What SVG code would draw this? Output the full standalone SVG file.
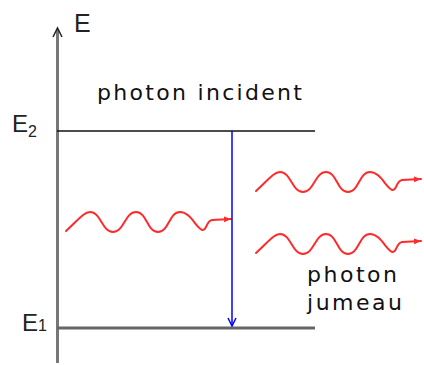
<svg xmlns="http://www.w3.org/2000/svg" xmlns:xlink="http://www.w3.org/1999/xlink" width="424" height="365" viewBox="0 0 424 365">
<style>
.lbl{font-family:"DejaVu Sans","Liberation Sans",sans-serif;font-size:22px;fill:#111}
.e{font-family:"Liberation Sans","DejaVu Sans",sans-serif;fill:#222}
.wave{fill:none;stroke:#ff2a2a;stroke-width:2;stroke-linecap:round;stroke-linejoin:round}
</style>
<defs>
<marker id="ra" markerWidth="8" markerHeight="8" refX="7" refY="4" orient="auto" markerUnits="userSpaceOnUse">
<path d="M0,1 L7,4 L0,7 Z" fill="#ff2a2a"/>
</marker>
<marker id="ba" markerWidth="10" markerHeight="10" refX="5" refY="9" orient="0" markerUnits="userSpaceOnUse">
<path d="M1,1 L5,9 L9,1" fill="none" stroke="#0000ff" stroke-width="1.5"/>
</marker>
<path id="w" d="M66,231 C78,220 84,212 90,212 C101,212 102,232 113,232 C124,232 125,212 136,212 C147,212 147,232 158,232 C169,232 169,212 180,212 C191,212 197,230 203,230 C207,230 206,221 212,220 L231,219" class="wave" marker-end="url(#ra)"/>
</defs>
<rect width="424" height="365" fill="#fff"/>
<g id="axis">
<line x1="57.5" y1="363" x2="57.5" y2="29" stroke="#777" stroke-width="3"/>
<path d="M53,37 L57.5,28 L62,37" fill="none" stroke="#222" stroke-width="1.5"/>
<text class="e" x="74" y="32" font-size="25">E</text>
</g>
<g id="levelE2">
<line x1="57" y1="131" x2="315" y2="131" stroke="#111" stroke-width="1.5"/>
<text class="e" x="12" y="132" font-size="24">E<tspan font-size="16" dy="5">2</tspan></text>
</g>
<g id="levelE1">
<line x1="57" y1="328" x2="315" y2="328" stroke="#666" stroke-width="3"/>
<text class="e" x="22" y="331" font-size="24">E<tspan font-size="16" dy="0">1</tspan></text>
</g>
<g id="incident">
<text class="lbl" x="97" y="100" textLength="205" lengthAdjust="spacing">photon incident</text>
<use xlink:href="#w"/>
</g>
<g id="twins">
<use xlink:href="#w" transform="translate(190,-40)"/>
<use xlink:href="#w" transform="translate(190,22)"/>
<text class="lbl" x="307" y="282" textLength="90" lengthAdjust="spacing">photon</text>
<text class="lbl" x="307" y="310" textLength="95" lengthAdjust="spacing">jumeau</text>
</g>
<g id="connectors">
<line x1="232" y1="131" x2="232" y2="326" stroke="#0000ff" stroke-width="1.5" marker-end="url(#ba)"/>
</g>
</svg>
